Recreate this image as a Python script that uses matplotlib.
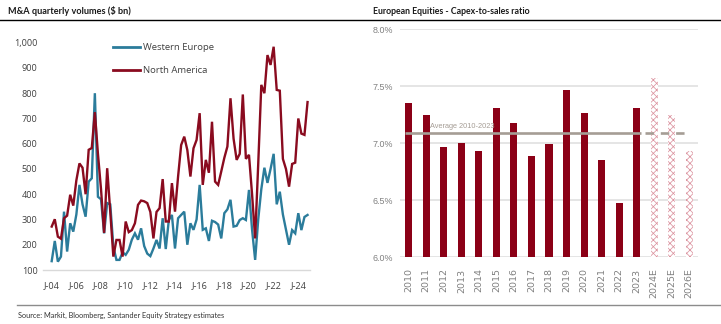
import numpy as np
import matplotlib
matplotlib.use("Agg")
import matplotlib.pyplot as plt
from matplotlib.lines import Line2D
from matplotlib.ticker import FuncFormatter, FixedLocator

# M&A quarterly volumes ($ bn), 2004Q1 .. 2024Q4
first_year = 2004
western_europe = [
    135, 215, 133, 153, 331, 173, 285, 252, 320, 437, 360, 311, 450, 463, 800, 390,
    380, 245, 365, 360, 193, 140, 140, 170, 160, 180, 220, 245, 220, 265, 195, 165,
    155, 185, 219, 185, 305, 183, 298, 318, 185, 305, 318, 331, 200, 285, 259, 300,
    437, 259, 265, 215, 295, 290, 280, 225, 325, 340, 378, 272, 275, 298, 305, 298,
    417, 260, 140, 300, 420, 505, 445, 500, 560, 360, 410, 320, 260, 200, 258, 245,
    325, 258, 310, 318,
]
north_america = [
    272, 301, 232, 224, 305, 315, 398, 355, 455, 522, 505, 400, 576, 583, 725, 560,
    420, 247, 503, 330, 153, 219, 219, 153, 292, 250, 258, 285, 358, 375, 372, 365,
    330, 225, 330, 345, 460, 292, 292, 444, 331, 470, 595, 628, 575, 470, 582, 615,
    721, 437, 536, 485, 687, 450, 437, 490, 544, 589, 780, 620, 536, 560, 795, 540,
    556, 400, 225, 520, 833, 800, 951, 912, 984, 813, 810, 540, 500, 430, 520, 525,
    700, 640, 635, 765,
]
tick_years = list(range(2004, 2025, 2))

# European equities capex-to-sales ratio (%)
capex_years = ['2010', '2011', '2012', '2013', '2014', '2015', '2016', '2017', '2018',
               '2019', '2020', '2021', '2022', '2023', '2024E', '2025E', '2026E']
capex_ratio = [7.35, 7.25, 6.97, 7.00, 6.93, 7.31, 7.18, 6.89, 6.99,
               7.47, 7.27, 6.85, 6.48, 7.31, 7.57, 7.25, 6.93]
n_actual = 14

BLUE = '#2b7c9b'
RED = '#8a0b1f'
BAR_RED = '#8b0016'
HATCH_PINK = '#dc95a1'
AVG_COLOR = '#a59d95'
TXT = '#404040'
GREY_TXT = '#808080'
NARROW = ['DejaVu Sans Condensed', 'Liberation Sans']

plt.rcParams['hatch.linewidth'] = 0.55

fig = plt.figure(figsize=(7.21, 3.24), dpi=100)

def fx(px):
    return px / 721

def fy(py):
    return 1 - py / 324

# header / footer
fig.text(fx(8), fy(11), 'M&A quarterly volumes ($ bn)', fontsize=6.6, fontweight='bold',
         family=['Lato', 'DejaVu Sans'], va='center', ha='left', color='#1a1a1a')
fig.text(fx(373), fy(11), 'European Equities - Capex-to-sales ratio', fontsize=6.3, fontweight='bold',
         family=['Lato', 'DejaVu Sans'], va='center', ha='left', color='#1a1a1a')
fig.add_artist(Line2D([0, 1], [fy(20), fy(20)], transform=fig.transFigure, color='black', lw=1.0))
fig.add_artist(Line2D([fx(17), 1], [fy(304.5), fy(304.5)], transform=fig.transFigure,
                      color='#8c8c8c', lw=1.0))
fig.text(fx(18), fy(315.5), 'Source: Markit, Bloomberg, Santander Equity Strategy estimates',
         fontsize=5.3, family=['Lato', 'DejaVu Sans'], va='center', ha='left', color='#333333')

# left: M&A volumes
ax1 = fig.add_axes([fx(43), fy(270), fx(310 - 43), fy(42.7) - fy(270)])
x = first_year + np.arange(len(western_europe)) / 4
ax1.plot(x, western_europe, color=BLUE, lw=1.7, label='Western Europe', solid_joinstyle='miter')
ax1.plot(x, north_america, color=RED, lw=1.7, label='North America', solid_joinstyle='miter')

ax1.set_xlim(first_year - (51.7 - 43) / 12.33, first_year + (310 - 51.7) / 12.33)
ax1.set_ylim(100, 1000)
ax1.set_yticks(range(100, 1001, 100))
ax1.yaxis.set_major_formatter(FuncFormatter(lambda v, p: f'{int(v):,}'))
ax1.xaxis.set_major_locator(FixedLocator(tick_years))
ax1.set_xticklabels([f'J-{y % 100:02d}' for y in tick_years])
for s in ['top', 'right', 'left']:
    ax1.spines[s].set_visible(False)
ax1.spines['bottom'].set_color('#d9d9d9')
ax1.spines['bottom'].set_linewidth(1.0)
ax1.tick_params(axis='both', length=0, labelsize=6.6, labelcolor=TXT)
ax1.tick_params(axis='x', pad=8)
ax1.tick_params(axis='y', pad=4)
for lab in ax1.get_xticklabels() + ax1.get_yticklabels():
    lab.set_family(['Open Sans', 'DejaVu Sans'])

leg = ax1.legend(loc='upper left', bbox_to_anchor=(0.262, 0.998), borderpad=0, borderaxespad=0,
                 frameon=False, handlelength=2.9, handletextpad=0.3, labelspacing=1.5,
                 prop={'family': ['Open Sans', 'DejaVu Sans'], 'size': 6.8})
for t in leg.get_texts():
    t.set_color(TXT)
for h in leg.legend_handles:
    h.set_linewidth(2.0)

# right: capex-to-sales
ax2 = fig.add_axes([fx(400), fy(257.3), fx(698 - 400), fy(29.3) - fy(257.3)])
pos = np.arange(len(capex_years))
ax2.bar(pos[:n_actual], capex_ratio[:n_actual], width=0.4, color=BAR_RED, zorder=3)
ax2.bar(pos[n_actual:], capex_ratio[n_actual:], width=0.4, facecolor='white',
        edgecolor=HATCH_PINK, hatch='xxxxx', linewidth=0, zorder=3)

avg = float(np.mean(capex_ratio[:n_actual]))
ax2.plot([-0.22, n_actual - 1 + 0.22], [avg, avg], color=AVG_COLOR, lw=1.9, zorder=4,
         solid_capstyle='butt')
ax2.plot([n_actual - 0.55, len(capex_years) - 1.2], [avg, avg], color=AVG_COLOR, lw=1.9,
         zorder=4, dashes=(3.2, 2.6))
ax2.text(1.2, avg + 0.03, 'Average 2010-2023', fontsize=5.3, color=AVG_COLOR,
         family=NARROW, ha='left', va='bottom', zorder=5)

ax2.set_xlim(-0.5, len(capex_years) - 0.5)
ax2.set_ylim(6.0, 8.0)
ax2.set_yticks([6.0, 6.5, 7.0, 7.5, 8.0])
ax2.yaxis.set_major_formatter(FuncFormatter(lambda v, p: f'{v:.1f}%'))
ax2.set_xticks(pos)
ax2.set_xticklabels(capex_years, rotation=90, va='top', ha='center')
ax2.grid(axis='y', color='#e3e3e3', lw=1.3, zorder=0)
for s in ax2.spines.values():
    s.set_visible(False)
ax2.tick_params(axis='both', length=0, labelcolor=GREY_TXT)
ax2.tick_params(axis='y', pad=5, labelsize=6.4)
ax2.tick_params(axis='x', pad=8, labelsize=6.8)
for lab in ax2.get_yticklabels():
    lab.set_family(NARROW)
for lab in ax2.get_xticklabels():
    lab.set_family(['DejaVu Sans'])

fig.savefig('out.png', dpi=100)
